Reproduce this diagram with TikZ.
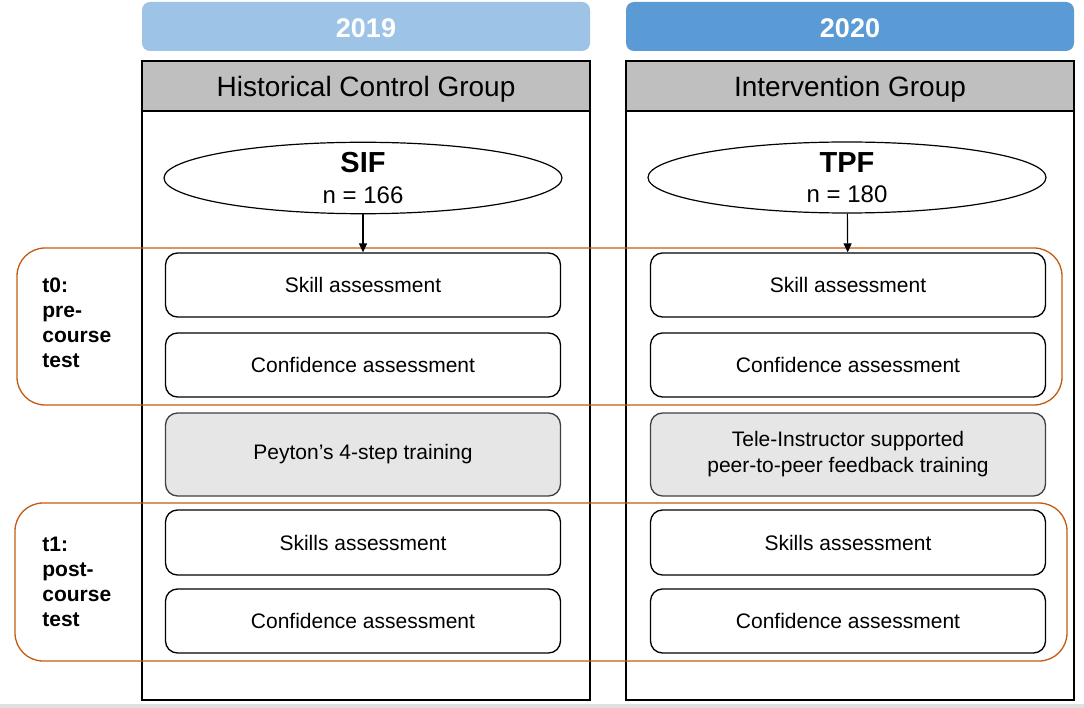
\documentclass[tikz,border=0pt]{standalone}
\usepackage{fontspec}
\setmainfont{Liberation Sans}
\usetikzlibrary{shapes.geometric,arrows.meta,positioning}
\definecolor{lightblue}{HTML}{9DC3E6}
\definecolor{darkblue}{HTML}{5B9BD5}
\definecolor{bandgrey}{HTML}{BFBFBF}
\definecolor{boxgrey}{HTML}{E7E6E6}
\definecolor{frameorange}{HTML}{C55A11}

\begin{document}
\begin{tikzpicture}[x=1pt, y=-1pt, thick,
    year node/.style={rounded corners=8pt, minimum width=448pt, minimum height=49pt, inner sep=0pt, text height=22pt, text=white, font=\bfseries\fontsize{27}{30}\selectfont},
    group node/.style={draw, line width=1.8pt, fill=bandgrey, minimum width=448pt, minimum height=50pt, inner sep=0pt, text depth=0pt, font=\fontsize{28}{32}\selectfont},
    sample node/.style={ellipse, draw, line width=1.2pt, minimum width=398pt, minimum height=71pt, inner sep=0pt, align=center},
    step node/.style={draw, line width=1.3pt, rounded corners=12pt, minimum width=395pt, minimum height=64pt, inner sep=0pt, align=center, font=\fontsize{21}{26}\selectfont},
    train node/.style={step node, fill=boxgrey, draw=black!75, minimum height=83pt},
    time node/.style={anchor=north west, align=left, inner sep=0pt, font=\bfseries\fontsize{21}{25}\selectfont},
    time frame/.style={draw=frameorange, line width=1.3pt, rounded corners=28pt}]
    \useasboundingbox (0,0) rectangle (1084,708);
    \fill[black!12] (0,704) rectangle (1084,708);

    % year headers and group columns
    \node[year node, fill=lightblue] (y2019) at (366,26.5) {2019};
    \node[year node, fill=darkblue] (y2020) at (850,26.5) {2020};
    \draw[line width=2pt] (142,61) rectangle (590,700);
    \draw[line width=2pt] (626,61) rectangle (1074,700);
    \node[group node] (hcg) at (366,86) {Historical Control Group};
    \node[group node] (ig) at (850,86) {Intervention Group};

    % time points
    \draw[time frame] (17,248) rectangle (1062,405);
    \draw[time frame] (15,503) rectangle (1067,661);
    \node[time node] (t0) at (42,277) {t0:\\pre-\\course\\test};
    \node[time node] (t1) at (42,537) {t1:\\post-\\course\\test};

    % historical control group
    \node[sample node] (sif) at (363,178) {\bfseries\fontsize{29}{32}\selectfont SIF\\[12pt]\fontsize{24}{28}\selectfont n = 166};
    \node[step node] (sif skill) at (363,285) {Skill assessment};
    \node[step node] (sif conf0) at (363,365) {Confidence assessment};
    \node[train node] (sif train) at (363,454.5) {Peyton’s 4-step training};
    \node[step node, minimum height=65pt] (sif skills) at (363,542.5) {Skills assessment};
    \node[step node] (sif conf1) at (363,621) {Confidence assessment};

    % intervention group
    \node[sample node] (tpf) at (847,177.5) {\bfseries\fontsize{29}{32}\selectfont TPF\\[12pt]\fontsize{24}{28}\selectfont n = 180};
    \node[step node] (tpf skill) at (848,285) {Skill assessment};
    \node[step node] (tpf conf0) at (848,365) {Confidence assessment};
    \node[train node] (tpf train) at (848,454.5) {Tele-Instructor supported\\peer-to-peer feedback training};
    \node[step node, minimum height=65pt] (tpf skills) at (848,542.5) {Skills assessment};
    \node[step node] (tpf conf1) at (848,621) {Confidence assessment};

    \path[-{Triangle[length=9pt,width=8pt]}, line width=1.2pt]
        (sif) edge (sif skill)
        (tpf) edge (tpf skill);
\end{tikzpicture}
\end{document}
